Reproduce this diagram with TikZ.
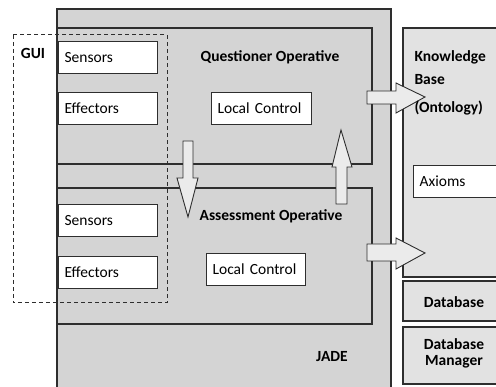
\documentclass[tikz,border=0pt]{standalone}
\usepackage{fontspec}
\setmainfont{Carlito}
\usetikzlibrary{positioning}

\definecolor{jadegray}{HTML}{D4D4D4}
\definecolor{kbgray}{HTML}{E2E2E2}
\definecolor{arrowgray}{HTML}{EBEBEB}
\definecolor{linegray}{HTML}{2E2E2E}

\tikzset{
    frame/.style={draw=linegray, line width=1.2pt, fill=jadegray},
    kbframe/.style={draw=linegray, line width=1.2pt, fill=kbgray},
    smallbox/.style={draw=linegray, line width=1.2pt, fill=white, anchor=north west,
        minimum height=32pt, text width=87pt, inner xsep=6pt, align=left},
    title/.style={font=\fontsize{15.5}{18}\selectfont\bfseries},
    blockarrow/.style={draw=linegray, line width=0.9pt, fill=arrowgray, line join=miter}
}

\begin{document}
\begin{tikzpicture}[x=1pt, y=-1pt, font=\fontsize{15.5}{18}\selectfont]
    \useasboundingbox (0,0) rectangle (496,387);
    \clip (0,0) rectangle (496,387);

    % JADE platform
    \draw[frame] (57,9) rectangle (391,400);
    \node[title] (jade) at (332,357) {JADE};

    % Questioner operative
    \draw[frame] (57,28) rectangle (372,164);
    \node[title] (qtitle) at (270,57) {Questioner Operative};
    \node[smallbox] (qsens) at (58,41) {Sensors};
    \node[smallbox] (qeff) at (58,92) {Effectors};
    \node[smallbox, text width=88pt] (qlocal) at (211,92) {Local Control};

    % Assessment operative
    \draw[frame] (57,188) rectangle (372,324);
    \node[title] (atitle) at (271,216) {Assessment Operative};
    \node[smallbox] (asens) at (58,204) {Sensors};
    \node[smallbox] (aeff) at (58,256) {Effectors};
    \node[smallbox, text width=87pt] (alocal) at (206,253) {Local Control};

    % GUI
    \draw[linegray, line width=1pt, dash pattern=on 4pt off 3pt] (13,35) rectangle (167,303);
    \node[title] (gui) at (33,53) {GUI};

    % Knowledge base and database boxes
    \draw[kbframe] (403,28) rectangle (510,277);
    \node[smallbox, text width=90pt] (axioms) at (413,165) {Axioms};
    \draw[kbframe] (403,281) rectangle (510,321);
    \node[title] (db) at (454,302) {Database};
    \draw[kbframe] (403,327) rectangle (510,384);
    \node[title, align=center] (dbm) at (454,353) {Database\\[-2pt]Manager};

    % Arrows between operatives
    \draw[blockarrow] (183,141) -- (193,141) -- (193,178) -- (198,178) -- (188,217)
        -- (177,178) -- (183,178) -- cycle;
    \draw[blockarrow] (336,204) -- (347,204) -- (347,167) -- (352,167) -- (341,130)
        -- (332,167) -- (336,167) -- cycle;

    % Arrows to knowledge base
    \draw[blockarrow] (367,91) -- (396,91) -- (396,83) -- (425,97) -- (396,113)
        -- (396,104) -- (367,104) -- cycle;
    \draw[blockarrow] (367,244) -- (396,244) -- (396,238) -- (425,253) -- (396,269)
        -- (396,261) -- (367,261) -- cycle;

    % Knowledge base title
    \node[title, anchor=west] (kb1) at (411,57) {Knowledge};
    \node[title, anchor=west] (kb2) at (411,80) {Base};
    \node[title, anchor=west] (kb3) at (411,108) {(Ontology)};
\end{tikzpicture}
\end{document}
